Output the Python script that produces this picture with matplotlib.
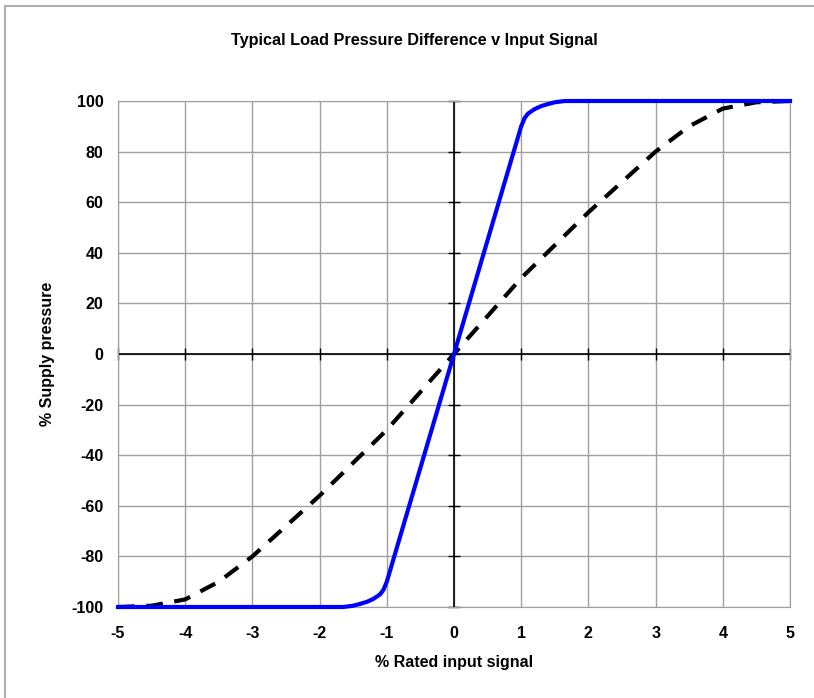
import numpy as np
import matplotlib
matplotlib.use("Agg")
import matplotlib.pyplot as plt
from matplotlib.lines import Line2D

plt.rcParams['font.family'] = ['Liberation Sans', 'DejaVu Sans']
plt.rcParams['font.weight'] = 'bold'
plt.rcParams['axes.unicode_minus'] = False

# % rated input signal vs % supply pressure
signal_valve = [-5, -3, -2, -1.65, -1.5, -1.4, -1.3, -1.2, -1.1, -1.05, -1.0,
                -0.5, 0, 0.5, 1.0, 1.05, 1.1, 1.2, 1.3, 1.4, 1.5, 1.65, 2, 3, 5]
pressure_valve = [-100, -100, -100, -100, -99.5, -98.8, -98.0, -96.8, -95.0, -93.2, -90,
                  -45, 0, 45, 90, 93.2, 95.0, 96.8, 98.0, 98.8, 99.5, 100, 100, 100, 100]

signal_ref = [-5, -4.5, -4, -3.5, -3, -2.5, -2, -1.5, -1, -0.5, 0,
              0.5, 1, 1.5, 2, 2.5, 3, 3.5, 4, 4.5, 5]
pressure_ref = [-100, -99.5, -97, -90, -80, -68, -56, -43, -30, -15, 0,
                15, 30, 43, 56, 68, 80, 90, 97, 99.5, 100]

x_ticks = [-5, -4, -3, -2, -1, 0, 1, 2, 3, 4, 5]
y_ticks = [-100, -80, -60, -40, -20, 0, 20, 40, 60, 80, 100]

fig = plt.figure(figsize=(8.14, 6.98), dpi=100)
ax = fig.add_axes([118/814, 1 - 607/698, 672/814, 506/698])

grid_col = '#a0a0a0'
ax.set_xlim(-5, 5)
ax.set_ylim(-100, 100)
ax.set_xticks(x_ticks)
ax.set_yticks(y_ticks)
ax.grid(True, color=grid_col, linewidth=1)
ax.tick_params(axis='x', length=0, labelsize=11.5, pad=13.5)
ax.tick_params(axis='y', length=0, labelsize=11.5, pad=10.5)
for s in ax.spines.values():
    s.set_color(grid_col)

# axes crossing at zero, with small tick marks
ax.axhline(0, color='black', linewidth=1.2, zorder=2)
ax.axvline(0, color='black', linewidth=1.2, zorder=2)
ax.plot([0] * len(y_ticks), y_ticks, linestyle='none', marker='_', markersize=9,
        color='black', markeredgewidth=1, zorder=2, clip_on=False)
ax.plot(x_ticks, [0] * len(x_ticks), linestyle='none', marker='|', markersize=9,
        color='black', markeredgewidth=1, zorder=2, clip_on=False)

ax.plot(signal_ref, pressure_ref, color='black', linewidth=3, linestyle=(0, (4, 2.8)),
        zorder=3, clip_on=False)
ax.plot(signal_valve, pressure_valve, color='#0000ff', linewidth=3, zorder=4, clip_on=False)

ax.set_xlabel('% Rated input signal', fontsize=11.5, fontweight='bold', labelpad=10.5)
ax.set_ylabel('% Supply pressure', fontsize=11.5, fontweight='bold', labelpad=12)
fig.text(414/814, 1 - 41/698, 'Typical Load Pressure Difference v Input Signal',
         ha='center', va='center', fontsize=11.7, fontweight='bold')

# chart area frame (only top and left visible)
fig.add_artist(Line2D([5/814, 5/814], [0, 1 - 6/698], transform=fig.transFigure,
                      color='#b0b0b0', linewidth=1.5))
fig.add_artist(Line2D([5/814, 1], [1 - 6/698, 1 - 6/698], transform=fig.transFigure,
                      color='#b0b0b0', linewidth=1.5))

fig.savefig('out.png', dpi=100)
